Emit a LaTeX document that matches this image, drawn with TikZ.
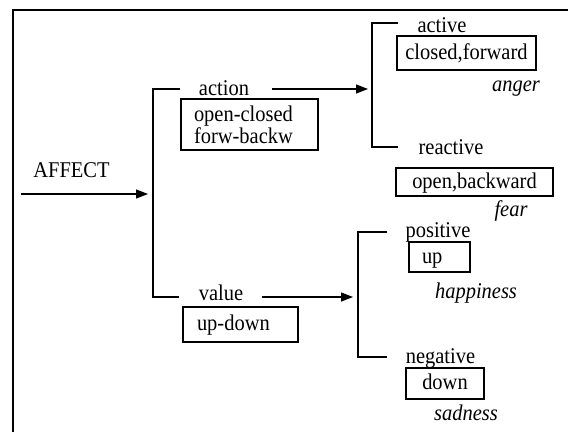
\documentclass[tikz,border=0pt]{standalone}
\usepackage{fontspec}
\setmainfont[FakeStretch=0.91]{Liberation Serif}
\usetikzlibrary{arrows.meta}
\begin{document}
\begin{tikzpicture}[x=1pt,y=-1pt,line width=1.3pt,
  lbl/.style={inner sep=0pt,font=\fontsize{22.5}{24}\selectfont},
  emo/.style={inner sep=0pt,font=\fontsize{22.5}{24}\selectfont\itshape},
  box/.style={draw,line width=1.2pt,inner ysep=0pt,text height=16pt,text depth=4pt,font=\fontsize{22.5}{24}\selectfont},
  arr/.style={-{Triangle[length=12pt,width=9pt]}}]
\useasboundingbox (0,0) rectangle (568,432);
% frame
\coordinate (fbl) at (13,432);
\coordinate (ftl) at (13,10);
\coordinate (ftr) at (568,10);
\draw (fbl) -- (ftl) -- (ftr);
% main input
\node[lbl] (affect) at (71.5,170) {AFFECT};
\coordinate (ain) at (21,194);
\coordinate (aout) at (148,194);
\draw[arr] (ain) -- (aout);
% main bracket
\coordinate (b1t) at (180,89);
\coordinate (b1b) at (179,297);
\draw (b1t) -- (153,89) -- (153,297) -- (b1b);
% action branch
\node[lbl] (action) at (224,88) {action};
\node[draw,line width=1.2pt,inner xsep=13pt,inner ysep=0pt,minimum height=51pt,font=\fontsize{22.5}{19}\selectfont] (acbox) at (249.5,124.5) {\parbox[c]{111pt}{\raggedright open-closed\\forw-backw}};
\coordinate (acs) at (272,89);
\coordinate (ace) at (368,89);
\draw[arr] (acs) -- (ace);
% value branch
\node[lbl] (value) at (221,293) {value};
\node[box,inner xsep=14pt,minimum height=35pt] (vabox) at (240.5,324.5) {\makebox[87pt][l]{up-down}};
\coordinate (vas) at (262,297);
\coordinate (vae) at (353,297);
\draw[arr] (vas) -- (vae);
% bracket 2
\coordinate (b2t) at (398,23);
\coordinate (b2b) at (398,147);
\draw (b2t) -- (372,23) -- (372,147) -- (b2b);
\node[lbl] (active) at (442,25) {active};
\node[box,inner xsep=8pt,minimum height=34pt] (cfbox) at (466.5,53) {\makebox[123pt][c]{closed,forward}};
\node[emo] (anger) at (516,89) {anger};
\node[lbl] (reactive) at (451,147) {reactive};
\node[box,inner xsep=8pt,minimum height=28pt] (obbox) at (474.5,182) {\makebox[141pt][c]{open,backward}};
\node[emo] (fear) at (511,211) {fear};
% bracket 3
\coordinate (b3t) at (387,232);
\coordinate (b3b) at (387,357);
\draw (b3t) -- (358,232) -- (358,357) -- (b3b);
\node[lbl] (positive) at (438,232) {positive};
\node[box,inner xsep=6pt,minimum height=30pt] (upbox) at (439.5,257) {\makebox[49pt][l]{\hspace{7pt}up}};
\node[emo] (happy) at (476,293) {happiness};
\node[lbl] (negative) at (440.5,358) {negative};
\node[box,inner xsep=6pt,minimum height=31pt] (dnbox) at (445,383.5) {\makebox[66pt][c]{down}};
\node[emo] (sad) at (466,413) {sadness};
\end{tikzpicture}
\end{document}
